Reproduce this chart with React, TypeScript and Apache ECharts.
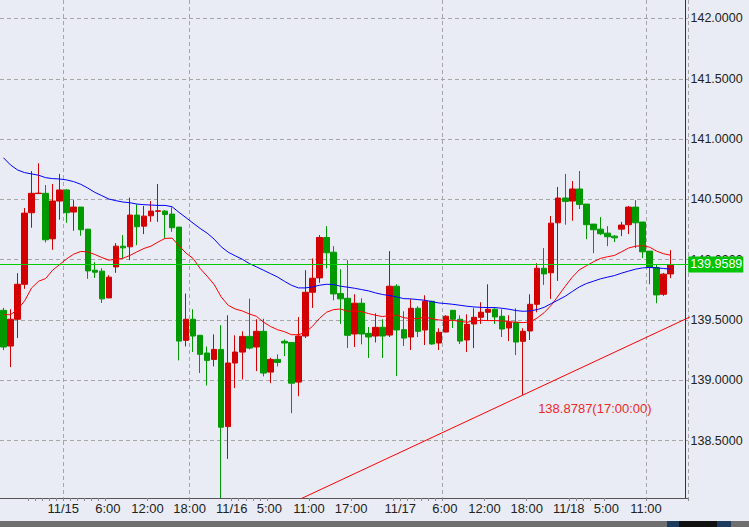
import React, { useEffect, useRef } from 'react';
import * as echarts from 'echarts';

// ---------- data ----------
// hourly candles, first one at 11/14 15:00
const START_MONTH = 11;
const START_DAY = 14;
const START_HOUR = 15;
const SLOT_COUNT = 98; // 96 candles + 2 empty slots on the right

// [open, close, low, high]
const candles: number[][] = [
  [139.580, 139.276, 139.250, 139.600],
  [139.284, 139.506, 139.109, 139.589],
  [139.506, 139.796, 139.350, 139.888],
  [139.796, 140.386, 139.758, 140.428],
  [140.389, 140.550, 140.265, 140.735],
  [140.548, 140.552, 140.545, 140.799],
  [140.550, 140.165, 140.143, 140.619],
  [140.173, 140.486, 140.082, 140.627],
  [140.486, 140.578, 140.331, 140.711],
  [140.578, 140.389, 140.306, 140.586],
  [140.395, 140.436, 140.240, 140.494],
  [140.436, 140.248, 140.198, 140.436],
  [140.253, 139.907, 139.841, 140.253],
  [139.913, 139.896, 139.849, 139.979],
  [139.905, 139.675, 139.641, 139.929],
  [139.683, 139.855, 139.683, 139.871],
  [139.940, 140.112, 139.891, 140.137],
  [140.112, 140.098, 140.010, 140.204],
  [140.107, 140.370, 139.996, 140.514],
  [140.370, 140.273, 140.120, 140.458],
  [140.278, 140.361, 140.212, 140.445],
  [140.364, 140.403, 140.314, 140.486],
  [140.401, 140.405, 140.314, 140.627],
  [140.403, 140.375, 140.176, 140.411],
  [140.378, 140.265, 140.231, 140.433],
  [140.270, 139.325, 139.165, 140.270],
  [139.331, 139.506, 139.281, 139.719],
  [139.506, 139.367, 139.234, 139.589],
  [139.373, 139.215, 139.060, 139.373],
  [139.226, 139.165, 138.957, 139.281],
  [139.173, 139.256, 139.115, 139.381],
  [139.256, 138.611, 138.024, 139.456],
  [138.616, 139.143, 138.348, 139.539],
  [139.143, 139.234, 138.935, 139.373],
  [139.234, 139.364, 139.007, 139.406],
  [139.364, 139.267, 139.256, 139.677],
  [139.276, 139.406, 139.076, 139.506],
  [139.406, 139.060, 139.032, 139.511],
  [139.068, 139.173, 138.976, 139.187],
  [139.173, 139.148, 139.115, 139.215],
  [139.323, 139.309, 139.201, 139.339],
  [139.314, 138.976, 138.727, 139.314],
  [138.985, 139.367, 138.868, 139.525],
  [139.367, 139.730, 139.350, 139.913],
  [139.730, 139.846, 139.600, 140.010],
  [139.849, 140.184, 139.808, 140.204],
  [140.184, 140.057, 139.927, 140.278],
  [140.062, 139.716, 139.663, 140.112],
  [139.719, 139.675, 139.467, 139.921],
  [139.680, 139.373, 139.267, 139.996],
  [139.384, 139.639, 139.276, 139.713],
  [139.639, 139.384, 139.298, 139.680],
  [139.389, 139.359, 139.184, 139.442],
  [139.367, 139.439, 139.314, 139.555],
  [139.439, 139.367, 139.184, 139.506],
  [139.375, 139.780, 139.359, 140.071],
  [139.780, 139.417, 139.035, 139.796],
  [139.420, 139.350, 139.284, 139.572],
  [139.359, 139.597, 139.251, 139.672],
  [139.597, 139.406, 139.359, 139.614],
  [139.417, 139.655, 139.292, 139.705],
  [139.655, 139.301, 139.295, 139.660],
  [139.309, 139.398, 139.251, 139.431],
  [139.400, 139.531, 139.398, 139.539],
  [139.580, 139.506, 139.434, 139.582],
  [139.506, 139.325, 139.301, 139.539],
  [139.334, 139.464, 139.234, 139.547],
  [139.467, 139.522, 139.267, 139.597],
  [139.522, 139.564, 139.467, 139.647],
  [139.564, 139.589, 139.492, 139.796],
  [139.589, 139.525, 139.467, 139.597],
  [139.531, 139.425, 139.359, 139.589],
  [139.434, 139.481, 139.325, 139.539],
  [139.481, 139.317, 139.209, 139.597],
  [139.323, 139.406, 138.8787, 139.431],
  [139.409, 139.630, 139.334, 139.713],
  [139.630, 139.929, 139.564, 139.971],
  [139.929, 139.882, 139.791, 140.096],
  [139.891, 140.303, 139.675, 140.362],
  [140.306, 140.511, 139.824, 140.603],
  [140.511, 140.483, 140.290, 140.711],
  [140.486, 140.586, 140.323, 140.652],
  [140.586, 140.458, 140.420, 140.735],
  [140.461, 140.290, 140.170, 140.461],
  [140.295, 140.248, 140.054, 140.295],
  [140.253, 140.215, 140.204, 140.353],
  [140.220, 140.190, 140.112, 140.278],
  [140.195, 140.181, 140.146, 140.204],
  [140.253, 140.287, 140.195, 140.314],
  [140.290, 140.436, 140.212, 140.445],
  [140.436, 140.306, 140.096, 140.494],
  [140.312, 140.065, 140.013, 140.312],
  [140.071, 139.935, 139.796, 140.071],
  [139.935, 139.708, 139.639, 139.957],
  [139.713, 139.880, 139.700, 139.890],
  [139.882, 139.9589, 139.847, 140.079],
];

const maShort: number[] = [
  139.544, 139.544, 139.586, 139.658, 139.766, 139.821, 139.844, 139.913, 139.960, 140.007,
  140.046, 140.068, 140.065, 140.043, 140.018, 139.996, 140.004, 140.011, 140.035, 140.065,
  140.093, 140.112, 140.146, 140.176, 140.179, 140.115, 140.054, 140.010, 139.927, 139.863,
  139.794, 139.691, 139.622, 139.591, 139.575, 139.550, 139.531, 139.483, 139.447, 139.420,
  139.403, 139.378, 139.378, 139.398, 139.447, 139.514, 139.564, 139.586, 139.591, 139.572,
  139.575, 139.569, 139.553, 139.539, 139.528, 139.539, 139.539, 139.519, 139.511, 139.511,
  139.525, 139.511, 139.500, 139.497, 139.497, 139.489, 139.481, 139.492, 139.497, 139.495,
  139.495, 139.492, 139.486, 139.481, 139.478, 139.483, 139.517, 139.561, 139.622, 139.700,
  139.780, 139.855, 139.916, 139.949, 139.982, 140.010, 140.024, 140.035, 140.065, 140.096,
  140.112, 140.115, 140.104, 140.071, 140.049, 140.037,
];

const maLong: number[] = [
  140.845, 140.785, 140.744, 140.722, 140.711, 140.700, 140.680, 140.672, 140.669, 140.661,
  140.647, 140.625, 140.594, 140.558, 140.531, 140.503, 140.489, 140.478, 140.472, 140.461,
  140.456, 140.453, 140.450, 140.450, 140.439, 140.392, 140.348, 140.303, 140.259, 140.220,
  140.170, 140.107, 140.062, 140.032, 140.004, 139.968, 139.941, 139.913, 139.885, 139.857,
  139.821, 139.788, 139.766, 139.766, 139.774, 139.788, 139.796, 139.794, 139.780, 139.772,
  139.763, 139.752, 139.741, 139.724, 139.711, 139.702, 139.691, 139.677, 139.675, 139.669,
  139.664, 139.652, 139.641, 139.636, 139.630, 139.622, 139.614, 139.608, 139.605, 139.603,
  139.603, 139.597, 139.589, 139.578, 139.572, 139.575, 139.586, 139.605, 139.636, 139.666,
  139.697, 139.736, 139.774, 139.802, 139.821, 139.841, 139.855, 139.868, 139.888, 139.905,
  139.921, 139.932, 139.935, 139.932, 139.927, 139.921,
];

const currentPrice = 139.9589;

// trend line through the 11/17 17:00 low
const trendAnchorIndex = 74;
const trendAnchorPrice = 138.8787;
const trendSlopePerBar = 0.0272;
const trendFromIndex = 40;
const trendToIndex = 98;

// time-axis labels: [category, shown text]
const xTickLabels: [string, string][] = [
  ['11/15 0:00', '11/15'],
  ['11/15 6:00', '6:00'],
  ['11/15 12:00', '12:00'],
  ['11/15 18:00', '18:00'],
  ['11/16 0:00', '11/16'],
  ['11/16 5:00', '5:00'],
  ['11/16 11:00', '11:00'],
  ['11/16 17:00', '17:00'],
  ['11/17 0:00', '11/17'],
  ['11/17 6:00', '6:00'],
  ['11/17 12:00', '12:00'],
  ['11/17 18:00', '18:00'],
  ['11/18 0:00', '11/18'],
  ['11/18 5:00', '5:00'],
  ['11/18 11:00', '11:00'],
];
const xGridCategories: string[] = ['11/15 0:00', '11/15 18:00', '11/17 6:00', '11/18 11:00'];
// extra small ticks seen under the time axis (slot indices)
const xExtraTickSlots: number[] = [
  4, 5, 6, 7, 8, 10, 11, 12, 13, 14, 34, 35, 36, 37, 38, 56, 57, 58, 59, 60, 61, 62, 82, 83, 84,
];

const Y_MIN = 138.024;
const Y_MAX = 142.153;

// ---------- helpers ----------
function buildCategories(): string[] {
  const out: string[] = [];
  let d = START_DAY;
  let h = START_HOUR;
  for (let i = 0; i < SLOT_COUNT; i++) {
    out.push(`${START_MONTH}/${d} ${h}:00`);
    h += 1;
    if (h === 24) {
      h = 0;
      d += 1;
    }
  }
  return out;
}

const FONT = "'Liberation Sans', Arial, sans-serif";
const BAND = 7.062;
const GRID_LEFT = -3.92;
const AXIS_X = 685.5;

export default function App() {
  const ref = useRef<HTMLDivElement>(null);

  useEffect(() => {
    if (!ref.current) return;
    const chart = echarts.init(ref.current, null, { renderer: 'svg' });
    const categories = buildCategories();
    const labelMap = new Map<string, string>(xTickLabels);
    const gridSet = new Set<string>(xGridCategories);
    const extraTicks = new Set<number>(xExtraTickSlots);
    const gridWidth = SLOT_COUNT * BAND;
    const gridRight = GRID_LEFT + gridWidth;

    const trendData = [trendFromIndex, trendToIndex].map((i) => [
      i,
      trendAnchorPrice + (i - trendAnchorIndex) * trendSlopePerBar,
    ]);
    const lowCandle = candles[trendAnchorIndex];
    const lowTime = categories[trendAnchorIndex].split(' ')[1];
    const hh = lowTime.split(':')[0];
    const lowLabel = `${lowCandle[2].toFixed(4)}(${hh.padStart(2, '0')}:00:00)`;

    const option: any = {
      animation: false,
      backgroundColor: '#e9ecf5',
      grid: { left: GRID_LEFT, top: 0, width: gridWidth, height: 498 },
      xAxis: [
        {
          type: 'category',
          data: categories,
          boundaryGap: true,
          axisLine: { show: true, onZero: false, lineStyle: { color: '#555', width: 1 } },
          axisTick: {
            show: true,
            length: 3,
            interval: (i: number, v: string) => labelMap.has(v) || extraTicks.has(i),
            lineStyle: { color: '#8a8a8a' },
          },
          axisLabel: {
            interval: (i: number, v: string) => labelMap.has(v),
            formatter: (v: string) => {
              const t = labelMap.get(v) || '';
              return t.length <= 4 ? `{sp| }{t|${t}}` : `{t|${t}}`;
            },
            padding: [0, 7, 0, 0],
            margin: 4,
            color: '#222',
            fontSize: 13,
            fontFamily: FONT,
            rich: {
              sp: { width: 5, fontSize: 13, fontFamily: FONT },
              t: { color: '#222', fontSize: 13, fontFamily: FONT },
            },
            hideOverlap: false,
          },
          splitLine: {
            show: true,
            interval: (i: number, v: string) => gridSet.has(v),
            lineStyle: { color: '#a6a6a6', type: [4, 3], width: 1 },
          },
        },
        {
          type: 'value',
          show: false,
          min: -0.5,
          max: SLOT_COUNT - 0.5,
        },
      ],
      yAxis: {
        type: 'value',
        position: 'right',
        offset: AXIS_X - gridRight,
        min: Y_MIN,
        max: Y_MAX,
        splitNumber: 8,
        axisLine: { show: true, onZero: false, lineStyle: { color: '#333', width: 1 } },
        axisTick: { show: false },
        axisLabel: {
          formatter: (v: number) => v.toFixed(4),
          color: '#222',
          fontSize: 12.5,
          fontFamily: FONT,
          margin: 5,
          showMinLabel: false,
          showMaxLabel: false,
        },
        splitLine: {
          show: true,
          showMinLine: false,
          showMaxLine: false,
          lineStyle: { color: '#a6a6a6', type: [4, 3], width: 1 },
        },
      },
      series: [
        {
          type: 'candlestick',
          xAxisIndex: 0,
          data: candles,
          barWidth: 6,
          clip: true,
          itemStyle: {
            color: '#d20000',
            color0: '#009a00',
            borderColor: '#d20000',
            borderColor0: '#009a00',
            borderWidth: 1,
          },
          markLine: {
            silent: true,
            symbol: ['none', 'none'],
            lineStyle: { color: '#00cc00', width: 1, type: 'solid' },
            label: {
              show: true,
              position: 'end',
              distance: 0,
              formatter: () => currentPrice.toFixed(4),
              color: '#ffffff',
              backgroundColor: '#00c400',
              padding: [2, 1, 1, 2],
              fontSize: 12.5,
              fontFamily: FONT,
            },
            data: [{ yAxis: currentPrice }],
          },
          markPoint: {
            silent: true,
            symbol: 'circle',
            symbolSize: 1,
            itemStyle: { color: 'rgba(0,0,0,0)' },
            label: {
              show: true,
              position: 'inside',
              align: 'left',
              verticalAlign: 'middle',
              offset: [15, 14],
              formatter: () => lowLabel,
              color: '#f02828',
              fontSize: 13,
              fontFamily: FONT,
            },
            data: [{ coord: [trendAnchorIndex, lowCandle[2]] }],
          },
          z: 3,
        },
        {
          type: 'line',
          xAxisIndex: 0,
          data: maShort,
          symbol: 'none',
          lineStyle: { color: '#ff0000', width: 1 },
          z: 4,
        },
        {
          type: 'line',
          xAxisIndex: 0,
          data: maLong,
          symbol: 'none',
          lineStyle: { color: '#0000ff', width: 1 },
          z: 4,
        },
        {
          type: 'line',
          xAxisIndex: 1,
          data: trendData,
          symbol: 'none',
          clip: true,
          lineStyle: { color: '#ff0000', width: 1 },
          z: 4,
        },
      ],
      graphic: [
        {
          type: 'rect',
          shape: { x: 0, y: 521, width: 749, height: 6 },
          style: { fill: '#6f6f6f' },
          silent: true,
        },
        {
          type: 'rect',
          shape: { x: 667, y: 521, width: 12, height: 6 },
          style: { fill: '#1d3b5e' },
          silent: true,
        },
        {
          type: 'rect',
          shape: { x: 679, y: 521, width: 38, height: 6 },
          style: { fill: '#111111' },
          silent: true,
        },
        {
          type: 'rect',
          shape: { x: 717, y: 521, width: 14, height: 6 },
          style: { fill: '#1d3b5e' },
          silent: true,
        },
      ],
    };
    chart.setOption(option);
    return () => chart.dispose();
  }, []);

  return (
    <div
      ref={ref}
      style={{ position: 'fixed', left: 0, top: 0, width: 749, height: 527 }}
    />
  );
}
